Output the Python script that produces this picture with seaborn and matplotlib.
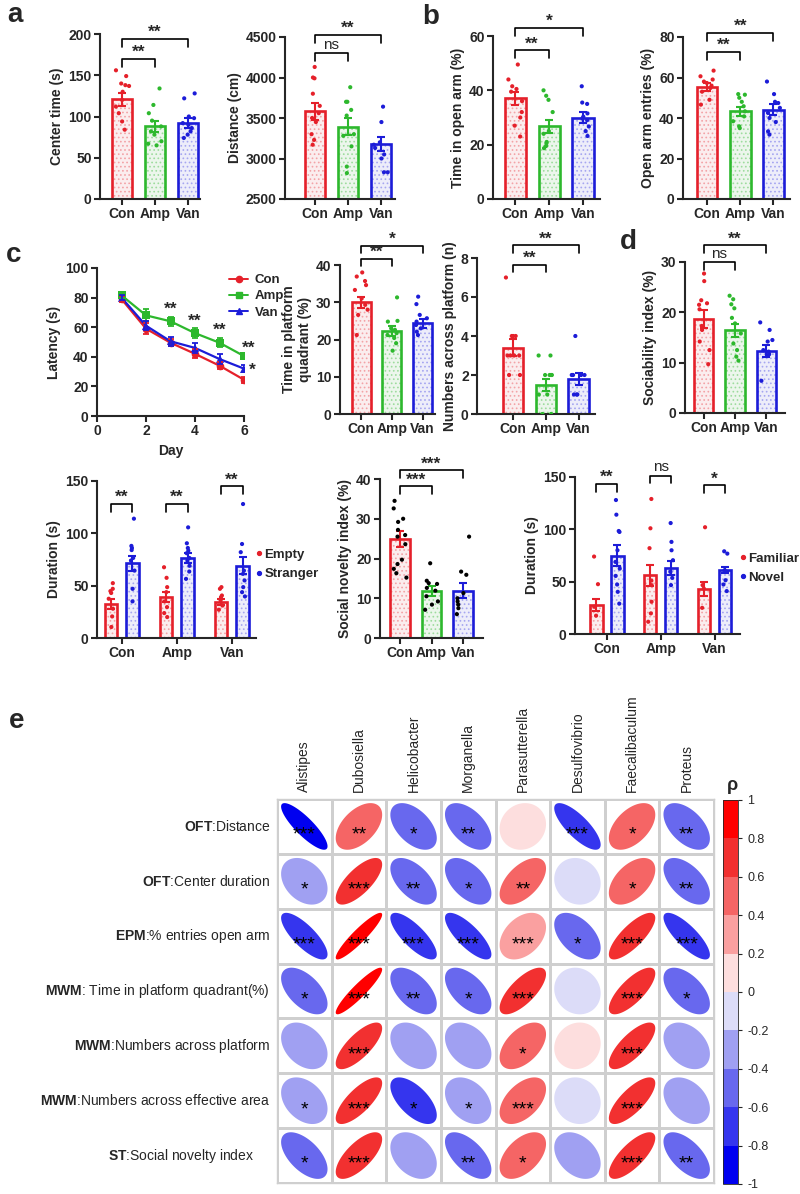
import numpy as np
import pandas as pd
import matplotlib
matplotlib.use("Agg")
import matplotlib.pyplot as plt
from matplotlib.patches import Polygon
from matplotlib.lines import Line2D
from matplotlib.colors import ListedColormap, BoundaryNorm
from matplotlib.cm import ScalarMappable
import seaborn as sns

# ---------------- data ----------------
groups = ["Con", "Amp", "Van"]

center_mean = [121, 88, 92]
center_sem = [8, 7, 6]
center_dots = [[156, 149, 140, 138, 137, 130, 120, 112, 104, 94, 84],
               [134, 114, 104, 95, 88, 82, 78, 70, 67, 65],
               [128, 122, 100, 98, 92, 90, 86, 82, 78, 74]]

dist_mean = [3585, 3395, 3180]
dist_sem = [105, 110, 85]
dist_dots = [[4130, 4000, 3990, 3800, 3650, 3560, 3500, 3450, 3300, 3230, 3170],
             [3880, 3700, 3700, 3600, 3530, 3300, 3280, 3150, 2900, 2820],
             [3640, 3450, 3200, 3170, 3130, 3050, 3000, 2830, 2830]]

opentime_mean = [37, 26.7, 30]
opentime_sem = [2.5, 2.5, 2]
opentime_dots = [[49.5, 44, 41.5, 40.5, 39.5, 36, 32, 30, 27, 23],
                 [40, 38, 36.5, 32, 25, 24, 21, 20.5, 19.5, 18.7],
                 [41.5, 35.5, 35, 31.5, 30.3, 29.7, 29, 26.7, 25, 23.2]]

entries_mean = [55.3, 43.3, 44]
entries_sem = [1.8, 2.3, 2.7]
entries_dots = [[63.4, 60.6, 59, 58, 57.3, 56, 54.8, 53, 49, 46.6],
                [51.8, 51.5, 50, 48, 45.8, 43.3, 40.8, 38.4, 35.9, 35],
                [58, 51.8, 48, 47.4, 45, 42.5, 40, 38, 33.4, 31.8]]

days = [1, 2, 3, 4, 5, 6]
lat_con = [79, 59, 49.5, 42, 34, 24.5]
lat_amp = [81.5, 68, 64, 56, 49.5, 40.5]
lat_van = [80, 61, 50.5, 46, 38.5, 32]
lat_con_sem = [2, 3.5, 2.5, 3, 2.5, 2]
lat_amp_sem = [1.5, 4, 3, 3.5, 3, 2]
lat_van_sem = [1.5, 3, 3, 3.5, 3.5, 2.5]

quad_mean = [30, 22.3, 24.4]
quad_sem = [1.5, 1.3, 1.2]
quad_dots = [[38, 36.9, 35.7, 34.6, 33.3, 31, 29.3, 28, 26.6, 21.2],
             [31.3, 25, 24.8, 23, 22.6, 21.7, 21.2, 20.4, 19, 17],
             [31.5, 29.5, 26.6, 25.7, 24.8, 23.9, 23, 22.1, 21.2]]

cross_mean = [3.4, 1.5, 1.8]
cross_sem = [0.45, 0.3, 0.3]
cross_dots = [[7, 4, 4, 4, 3, 3, 3, 3, 2, 2],
              [3, 3, 2, 2, 2, 2, 1, 0, 1, 0],
              [4, 2, 2, 2, 2, 2, 1, 1, 1]]

soc_mean = [18.7, 16.4, 12.3]
soc_sem = [1.8, 1.3, 1.2]
soc_dots = [[27.7, 26.2, 22.4, 21.8, 21.5, 20.6, 17.3, 16.5, 14.2, 12.5, 9.7],
            [23.3, 22.6, 21.6, 20.8, 18.9, 17.8, 15.8, 13.8, 12.5, 11.2, 10.4],
            [18, 16.5, 14.5, 14.2, 12.5, 12.2, 11.7, 11.5, 6.4]]

empty_mean = [32.7, 39, 34.3]
empty_sem = [5, 4.5, 3]
stranger_mean = [71.4, 76.5, 69.2]
stranger_sem = [7, 4.5, 8]
empty_dots = [[52.4, 47, 44.8, 43, 37.5, 28, 20.6, 10.5],
              [67.6, 57.5, 48.6, 43.8, 35, 29.5, 23.8, 20],
              [48.6, 47, 40.6, 39, 36, 31, 27]]
stranger_dots = [[114, 88, 86, 84, 76.5, 74, 64.4, 47, 35],
                 [105.7, 90.5, 86, 83.5, 81, 76.5, 74, 69, 63.5, 56.5],
                 [128, 89.8, 82, 64.4, 61.3, 55, 48.6, 43.8, 39.7]]

novelty_mean = [24.9, 11.8, 11.9]
novelty_sem = [2.0, 1.2, 1.9]
novelty_dots = [[34.5, 32.6, 30, 29.2, 27.2, 25.9, 25.5, 23.6, 19.7, 18.6, 17.4, 16.3, 15.2],
                [18.8, 14.4, 13.8, 13.6, 12.6, 11.9, 10.5, 9.2, 8.4, 7.1],
                [25.5, 16.7, 15.9, 11.3, 10, 9.2, 8.4, 7.5, 6]]

familiar_mean = [27.6, 56, 43]
familiar_sem = [6, 10, 7]
novel_mean = [74.6, 63, 61]
novel_sem = [10, 7, 3]
familiar_dots = [[74, 47.6, 26, 17.5],
                 [129, 101, 82, 51, 46.7, 30.8, 19.7, 11.7],
                 [102, 46.7, 43.5, 25]]
novel_dots = [[128, 114, 98.4, 97.5, 80, 68.9, 62.5, 55.5, 47.3, 40.3, 29],
              [106, 88, 80, 70.5, 59.4, 53.6, 46.7],
              [79, 76.8, 61, 59.4, 51.4, 47.3, 41]]

genera = ["Alistipes", "Dubosiella", "Helicobacter", "Morganella",
          "Parasutterella", "Desulfovibrio", "Faecalibaculum", "Proteus"]
behaviours = [r"$\mathbf{OFT}$:Distance",
              r"$\mathbf{OFT}$:Center duration",
              r"$\mathbf{EPM}$:% entries open arm",
              r"$\mathbf{MWM}$: Time in platform quadrant(%)",
              r"$\mathbf{MWM}$:Numbers across platform",
              r"$\mathbf{MWM}$:Numbers across effective area",
              r"$\mathbf{ST}$:Social novelty index     "]
rho = [[-0.85, 0.50, -0.50, -0.52, 0.10, -0.78, 0.50, -0.52],
       [-0.32, 0.72, -0.55, -0.52, 0.55, -0.10, 0.50, -0.55],
       [-0.78, 0.92, -0.78, -0.78, 0.38, -0.50, 0.78, -0.80],
       [-0.55, 0.92, -0.55, -0.55, 0.72, -0.10, 0.75, -0.55],
       [-0.35, 0.75, -0.35, -0.35, 0.50, 0.10, 0.75, -0.35],
       [-0.35, 0.75, -0.62, -0.35, 0.50, -0.10, 0.75, -0.35],
       [-0.58, 0.70, -0.35, -0.60, 0.50, -0.35, 0.75, -0.60]]
rho_stars = [["***", "**", "*", "**", "", "***", "*", "**"],
             ["*", "***", "**", "*", "**", "", "*", "**"],
             ["***", "***", "***", "***", "***", "*", "***", "***"],
             ["*", "***", "**", "*", "***", "", "***", "*"],
             ["", "***", "", "", "*", "", "***", ""],
             ["*", "***", "*", "*", "***", "", "***", ""],
             ["*", "***", "", "**", "*", "", "***", "**"]]
rho_colors = ["#0000F0", "#3535EE", "#6868EE", "#A0A0F2", "#DCDCF8",
              "#FDDEDE", "#FAA0A0", "#F56565", "#F23030", "#FF0000"]

# ---------------- style ----------------
sns.set_style("ticks")
plt.rcParams["font.family"] = ["Liberation Sans", "DejaVu Sans"]
plt.rcParams["font.weight"] = "bold"
plt.rcParams["axes.labelweight"] = "bold"
plt.rcParams["hatch.linewidth"] = 0.7
plt.rcParams["mathtext.fontset"] = "custom"
plt.rcParams["mathtext.rm"] = "Liberation Sans"
plt.rcParams["mathtext.bf"] = "Liberation Sans:bold"

strong = {"Con": "#E5202A", "Amp": "#2DB82D", "Van": "#1C1CD8"}
tint = {"Con": "#FDEBEC", "Amp": "#EAF8EA", "Van": "#EBEBFC"}
dotc = {"Con": "#F3A3A7", "Amp": "#9EDC9E", "Van": "#A6A6F0"}
FS = 10

W, H = 800, 1194
fig = plt.figure(figsize=(W / 100, H / 100), dpi=100)
np.random.seed(7)


def add_ax(x0, y0, x1, y1):
    return fig.add_axes([x0 / W, 1 - y1 / H, (x1 - x0) / W, (y1 - y0) / H])


def style_ax(ax, ylim, yticks, ylabel):
    ax.set_ylim(*ylim)
    ax.set_yticks(yticks)
    ax.set_ylabel(ylabel, fontsize=FS, labelpad=3)
    ax.set_xlabel("")
    sns.despine(ax=ax)
    for s in ["left", "bottom"]:
        ax.spines[s].set_linewidth(1.5)
    ax.tick_params(width=1.5, length=4, labelsize=FS, pad=2)


def long_form(dots, labels):
    rows = [(lab, v) for lab, vals in zip(labels, dots) for v in vals]
    return pd.DataFrame(rows, columns=["group", "value"])


def bracket(ax, x1, x2, y, h, text):
    ax.plot([x1, x1, x2, x2], [y - h, y, y, y - h], color="black", lw=1.2,
            clip_on=False)
    if text == "ns":
        ax.text((x1 + x2) / 2, y + h * 0.15, text, ha="center", va="bottom",
                fontsize=11, fontweight="normal", clip_on=False)
    else:
        ax.text((x1 + x2) / 2, y - h * 0.15, text, ha="center", va="bottom",
                fontsize=12.5, fontweight="bold", clip_on=False)


def bar_panel(ax, means, sems, dots, xlim, ylim, yticks, ylabel, sig,
              black_dots=False):
    sns.barplot(x=groups, y=means, hue=groups, palette=tint, width=0.62,
                linewidth=0, legend=False, ax=ax)
    for p, g in zip(ax.patches, groups):
        p.set_hatch("....")
        p.set_edgecolor(dotc[g])
        p.set_linewidth(0)
    sns.barplot(x=groups, y=means, hue=groups, palette=strong, width=0.62,
                fill=False, linewidth=1.9, legend=False, ax=ax)
    for i, g in enumerate(groups):
        ax.errorbar(i, means[i], yerr=sems[i], fmt="none", ecolor=strong[g],
                    elinewidth=1.5, capsize=3, capthick=1.5, zorder=4)
    df = long_form(dots, groups)
    pal = {g: "black" for g in groups} if black_dots else strong
    sns.stripplot(data=df, x="group", y="value", hue="group", palette=pal,
                  size=3, jitter=0.22, legend=False, zorder=5, ax=ax)
    ax.set_xlim(*xlim)
    style_ax(ax, ylim, yticks, ylabel)
    h = (ylim[1] - ylim[0]) * 0.05
    for x1, x2, y, t in sig:
        bracket(ax, x1, x2, y, h, t)


def grouped_panel(ax, names, mean_a, mean_b, sem_a, sem_b, dots_a, dots_b,
                  xlim, ylim, yticks, ylabel, sig, legend_y):
    summary = pd.DataFrame({"group": groups * 2,
                            "cond": [names[0]] * 3 + [names[1]] * 3,
                            "value": mean_a + mean_b})
    sns.barplot(data=summary, x="group", y="value", hue="cond",
                palette={names[0]: tint["Con"], names[1]: tint["Van"]},
                width=0.78, gap=0.41, linewidth=0, legend=False, ax=ax)
    for k, p in enumerate(ax.patches):
        p.set_hatch("....")
        p.set_edgecolor(dotc["Con"] if k < 3 else dotc["Van"])
        p.set_linewidth(0)
    sns.barplot(data=summary, x="group", y="value", hue="cond",
                palette={names[0]: strong["Con"], names[1]: strong["Van"]},
                width=0.78, gap=0.41, fill=False, linewidth=1.9, legend=False,
                ax=ax)
    xs = np.arange(3)
    ax.errorbar(xs - 0.195, mean_a, yerr=sem_a, fmt="none", ecolor=strong["Con"],
                elinewidth=1.5, capsize=3, capthick=1.5, zorder=4)
    ax.errorbar(xs + 0.195, mean_b, yerr=sem_b, fmt="none", ecolor=strong["Van"],
                elinewidth=1.5, capsize=3, capthick=1.5, zorder=4)
    rows = [(g, names[0], v) for g, vals in zip(groups, dots_a) for v in vals]
    rows += [(g, names[1], v) for g, vals in zip(groups, dots_b) for v in vals]
    dots = pd.DataFrame(rows, columns=["group", "cond", "value"])
    sns.stripplot(data=dots, x="group", y="value", hue="cond", dodge=True,
                  palette={names[0]: strong["Con"], names[1]: strong["Van"]},
                  size=3, jitter=0.08, legend=False, zorder=5, ax=ax)
    ax.set_xlim(*xlim)
    style_ax(ax, ylim, yticks, ylabel)
    h = (ylim[1] - ylim[0]) * 0.05
    for gi, y, t in sig:
        bracket(ax, gi - 0.195, gi + 0.195, y, h, t)
    handles = [Line2D([], [], ls="none", marker="o", ms=2.8, color=strong["Con"]),
               Line2D([], [], ls="none", marker="o", ms=2.8, color=strong["Van"])]
    ax.legend(handles, names, loc="upper left", bbox_to_anchor=(1.0, legend_y),
              frameon=False, handlelength=0.4, handletextpad=0.25,
              borderaxespad=0, borderpad=0, labelspacing=0.55,
              prop={"size": 9.5, "weight": "bold"})


# ---------------- row a / b ----------------
ax = add_ax(100, 34, 200, 199)
bar_panel(ax, center_mean, center_sem, center_dots, (-0.67, 2.36), (0, 200),
          [0, 50, 100, 150, 200], "Center time (s)",
          [(0, 1, 170, "**"), (0, 2, 194, "**")])

ax = add_ax(285, 37, 395, 199)
bar_panel(ax, dist_mean, dist_sem, dist_dots, (-0.9, 2.42), (2500, 4500),
          [2500, 3000, 3500, 4000, 4500], "Distance (cm)",
          [(0, 1, 4303, "ns"), (0, 2, 4528, "**")])

ax = add_ax(493, 36, 600, 199)
bar_panel(ax, opentime_mean, opentime_sem, opentime_dots, (-0.65, 2.5), (0, 60),
          [0, 20, 40, 60], "Time in open arm (%)",
          [(0, 1, 54.8, "**"), (0, 2, 63, "*")])

ax = add_ax(683, 37, 790, 199)
bar_panel(ax, entries_mean, entries_sem, entries_dots, (-0.73, 2.5), (0, 80),
          [0, 20, 40, 60, 80], "Open arm entries (%)",
          [(0, 1, 72.6, "**"), (0, 2, 82, "**")])

# ---------------- row c / d ----------------
ax = add_ax(97, 268, 244, 416)
lat = pd.DataFrame({"day": days * 3,
                    "group": ["Con"] * 6 + ["Amp"] * 6 + ["Van"] * 6,
                    "latency": lat_con + lat_amp + lat_van})
markers = {"Con": "o", "Amp": "s", "Van": "^"}
sns.lineplot(data=lat, x="day", y="latency", hue="group", style="group",
             palette=strong, markers=markers, dashes=False, markersize=5.5,
             markeredgewidth=0, linewidth=1.6, legend=False, ax=ax)
for g, m, s in [("Con", lat_con, lat_con_sem), ("Amp", lat_amp, lat_amp_sem),
                ("Van", lat_van, lat_van_sem)]:
    ax.errorbar(days, m, yerr=s, fmt="none", ecolor=strong[g], elinewidth=1.3,
                capsize=2.5, capthick=1.3)
ax.set_xlim(0, 6)
ax.set_xticks([0, 2, 4, 6])
style_ax(ax, (0, 100), [0, 20, 40, 60, 80, 100], "Latency (s)")
ax.set_xlabel("Day", fontsize=FS)
for d, y in [(3, 67), (4, 59), (5, 53)]:
    ax.text(d, y, "**", ha="center", va="bottom", fontsize=12.5, fontweight="bold")
ax.text(6.2, 41, "**", ha="center", va="bottom", fontsize=12.5,
        fontweight="bold", clip_on=False)
ax.text(6.32, 26, "*", ha="center", va="bottom", fontsize=12.5,
        fontweight="bold", clip_on=False)
handles = [Line2D([], [], color=strong[g], marker=markers[g], ms=4.5, lw=1.4)
           for g in groups]
ax.legend(handles, groups, loc="upper left", bbox_to_anchor=(0.82, 1.04),
          frameon=False, handlelength=1.4, handletextpad=0.5, labelspacing=0.3,
          prop={"size": 9.5, "weight": "bold"})

ax = add_ax(340, 265, 435, 414)
bar_panel(ax, quad_mean, quad_sem, quad_dots, (-0.69, 2.4), (0, 40),
          [0, 10, 20, 30, 40], "Time in platform\nquadrant (%)",
          [(0, 1, 41.6, "**"), (0, 2, 45.2, "*")])

ax = add_ax(477, 258, 595, 414)
bar_panel(ax, cross_mean, cross_sem, cross_dots, (-1.09, 2.5), (0, 8),
          [0, 2, 4, 6, 8], "Numbers across platform (n)",
          [(0, 1, 7.66, "**"), (0, 2, 8.65, "**")])

ax = add_ax(685, 262, 785, 413)
bar_panel(ax, soc_mean, soc_sem, soc_dots, (-0.6, 2.6), (0, 30),
          [0, 10, 20, 30], "Sociability index (%)",
          [(0, 1, 30, "ns"), (0, 2, 33.3, "**")])

# ---------------- bottom row ----------------
ax = add_ax(97, 481, 256, 638)
grouped_panel(ax, ["Empty", "Stranger"], empty_mean, stranger_mean, empty_sem,
              stranger_sem, empty_dots, stranger_dots, (-0.45, 2.44), (0, 150),
              [0, 50, 100, 150], "Duration (s)",
              [(0, 128, "**"), (1, 128, "**"), (2, 145, "**")], 0.57)

ax = add_ax(380, 479, 483, 638)
bar_panel(ax, novelty_mean, novelty_sem, novelty_dots, (-0.63, 2.63), (0, 40),
          [0, 10, 20, 30, 40], "Social novelty index (%)",
          [(0, 1, 38.2, "***"), (0, 2, 42.2, "***")], black_dots=True)

ax = add_ax(575, 477, 740, 634)
grouped_panel(ax, ["Familiar", "Novel"], familiar_mean, novel_mean, familiar_sem,
              novel_sem, familiar_dots, novel_dots, (-0.59, 2.47), (0, 150),
              [0, 50, 100, 150], "Duration (s)",
              [(0, 143.5, "**"), (1, 151.4, "ns"), (2, 142, "*")], 0.52)

# ---------------- panel e ----------------
hax = add_ax(277, 799, 714, 1183)
rho_df = pd.DataFrame(rho, index=behaviours, columns=genera)
sns.heatmap(rho_df, cmap=ListedColormap(["white"]), cbar=False, linewidths=1,
            linecolor="#CFCFCF", ax=hax)
cmap = ListedColormap(rho_colors)
norm = BoundaryNorm(np.linspace(-1, 1, 11), cmap.N)
t = np.linspace(0, 2 * np.pi, 120)
for i, row in enumerate(rho):
    for j, r in enumerate(row):
        d = np.arccos(r)
        ex = 0.85 * np.cos(t + d / 2) / 2
        ey = 0.85 * np.cos(t - d / 2) / 2
        hax.add_patch(Polygon(np.column_stack([j + 0.5 + ex, i + 0.5 - ey]),
                              closed=True, facecolor=cmap(norm(r)),
                              edgecolor="none", zorder=3))
        if rho_stars[i][j]:
            hax.text(j + 0.5, i + 0.66, rho_stars[i][j], ha="center",
                     va="center", fontsize=14, fontweight="normal",
                     color="black", zorder=4)
hax.xaxis.tick_top()
hax.tick_params(length=0, pad=5)
hax.set_xticklabels(genera, rotation=90, fontsize=10, fontweight="normal")
hax.set_yticklabels(behaviours, rotation=0, fontsize=10, fontweight="normal")
for sp in hax.spines.values():
    sp.set_visible(True)
    sp.set_color("#CFCFCF")
    sp.set_linewidth(1)

cax = add_ax(723, 800, 738, 1184)
cb = fig.colorbar(ScalarMappable(norm=norm, cmap=cmap), cax=cax,
                  ticks=np.linspace(-1, 1, 11))
cb.ax.set_yticklabels(["-1", "-0.8", "-0.6", "-0.4", "-0.2", "0", "0.2", "0.4",
                       "0.6", "0.8", "1"], fontsize=9, fontweight="normal")
cb.ax.tick_params(length=3, width=0.8)
cb.outline.set_linewidth(0.6)
fig.text(727 / W, 1 - 790 / H, "ρ", fontsize=13, fontweight="bold")

# ---------------- panel letters ----------------
for letter, x, y in [("a", 7, 22), ("b", 422, 24), ("c", 6, 262),
                     ("d", 620, 249), ("e", 9, 728)]:
    fig.text(x / W, 1 - y / H, letter, fontsize=20, fontweight="bold")

fig.savefig("out.png", dpi=100)
